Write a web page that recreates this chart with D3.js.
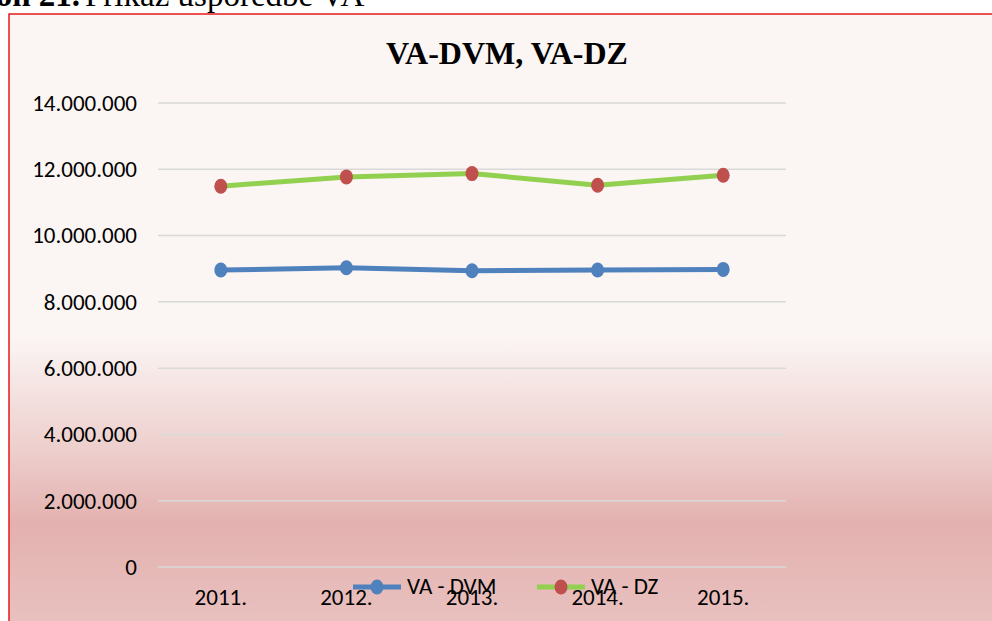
<!DOCTYPE html>
<html>
<head>
<meta charset="utf-8">
<script src="https://cdn.jsdelivr.net/npm/d3@7"></script>
<style>
  body { margin: 0; background: #fff; overflow: hidden; }
  svg { display: block; }
</style>
</head>
<body>
<svg width="992" height="621"></svg>
<script>
var years = ["2011.", "2012.", "2013.", "2014.", "2015."];
var dvm = [8960000, 9030000, 8940000, 8960000, 8980000];
var dz = [11490000, 11770000, 11870000, 11520000, 11820000];
var yTicks = [0, 2000000, 4000000, 6000000, 8000000, 10000000, 12000000, 14000000];
var seriesNames = ["VA - DVM", "VA - DZ"];

var svg = d3.select("svg"),
    width = +svg.attr("width"),
    height = +svg.attr("height");

var defs = svg.append("defs");
var grad = defs.append("linearGradient")
    .attr("id", "bg").attr("x1", 0).attr("y1", 0).attr("x2", 0).attr("y2", 1);
grad.append("stop").attr("offset", "0%").attr("stop-color", "#fbf5f4");
grad.append("stop").attr("offset", "52%").attr("stop-color", "#fbf5f4");
grad.append("stop").attr("offset", "70%").attr("stop-color", "#edcfcd");
grad.append("stop").attr("offset", "82%").attr("stop-color", "#e3b1af");
grad.append("stop").attr("offset", "100%").attr("stop-color", "#e9c3c1");

var serif = "'Liberation Serif', 'Times New Roman', serif";
var font = "Carlito, Calibri, 'Liberation Sans Narrow', 'Open Sans', sans-serif";

// caption above chart, cut off at the top
svg.append("text")
    .attr("x", 80).attr("y", 6)
    .attr("text-anchor", "end")
    .attr("font-family", serif).attr("font-weight", "bold")
    .attr("font-size", 33)
    .text("Grafikon 21.");
svg.append("text")
    .attr("x", 85).attr("y", 6)
    .attr("font-family", serif)
    .attr("font-size", 33)
    .text("Prikaz usporedbe VA");

// chart area
svg.append("rect")
    .attr("x", 9).attr("y", 14)
    .attr("width", width).attr("height", height)
    .attr("fill", "url(#bg)")
    .attr("stroke", "#e8181c").attr("stroke-width", 1.5);

var margin = {left: 158, right: 206, top: 103, bottom: 54};

var x = d3.scaleBand()
    .domain(years)
    .range([margin.left, width - margin.right]);

var y = d3.scaleLinear()
    .domain([0, 14000000])
    .range([height - margin.bottom, margin.top]);

var fmt = function(v) { return d3.format(",")(v).replace(/,/g, "."); };

// gridlines
svg.append("g")
    .selectAll("line")
    .data(yTicks)
    .enter().append("line")
      .attr("x1", margin.left).attr("x2", width - margin.right)
      .attr("y1", function(d) { return y(d); })
      .attr("y2", function(d) { return y(d); })
      .attr("stroke", "#d9d9d9").attr("stroke-width", 1.5);

// y axis labels
var yAxis = d3.axisLeft(y).tickValues(yTicks).tickFormat(fmt).tickSize(0).tickPadding(21);
var yg = svg.append("g")
    .attr("transform", "translate(" + margin.left + ",0)")
    .call(yAxis);
yg.select(".domain").remove();
yg.selectAll("text")
    .attr("font-family", font).attr("font-size", 23).attr("fill", "#000");

// x axis labels
var xAxis = d3.axisBottom(x).tickSize(0).tickPadding(22);
var xg = svg.append("g")
    .attr("transform", "translate(0," + y(0) + ")")
    .call(xAxis);
xg.select(".domain").remove();
xg.selectAll("text")
    .attr("font-family", font).attr("font-size", 23).attr("fill", "#000");

var series = [
  {name: seriesNames[0], values: dvm, line: "#4f81bd", marker: "#4f81bd"},
  {name: seriesNames[1], values: dz, line: "#92d050", marker: "#c0504d"}
];

var line = d3.line()
    .x(function(d, i) { return x(years[i]) + x.bandwidth() / 2; })
    .y(function(d) { return y(d); });

series.forEach(function(s) {
  svg.append("path")
      .datum(s.values)
      .attr("d", line)
      .attr("fill", "none")
      .attr("stroke", s.line)
      .attr("stroke-width", 5)
      .attr("stroke-linejoin", "round");
  svg.append("g")
    .selectAll("ellipse")
    .data(s.values)
    .enter().append("ellipse")
      .attr("cx", function(d, i) { return x(years[i]) + x.bandwidth() / 2; })
      .attr("cy", function(d) { return y(d); })
      .attr("rx", 6.5).attr("ry", 7.5)
      .attr("fill", s.marker);
});

// legend
var legend = svg.append("g")
    .selectAll("g")
    .data(series)
    .enter().append("g")
      .attr("transform", function(d, i) { return "translate(" + (353 + i * 184) + ",587)"; });
legend.append("line")
    .attr("x1", 0).attr("x2", 48)
    .attr("stroke", function(d) { return d.line; })
    .attr("stroke-width", 5);
legend.append("ellipse")
    .attr("cx", 24).attr("rx", 6.5).attr("ry", 7.5)
    .attr("fill", function(d) { return d.marker; });
legend.append("text")
    .attr("x", 54).attr("y", 7)
    .attr("font-family", font).attr("font-size", 23).attr("fill", "#000")
    .text(function(d) { return d.name; });

// title
svg.append("text")
    .attr("x", 507).attr("y", 64)
    .attr("text-anchor", "middle")
    .attr("font-family", serif)
    .attr("font-weight", "bold")
    .attr("font-size", 32)
    .text("VA-DVM, VA-DZ");
</script>
</body>
</html>
